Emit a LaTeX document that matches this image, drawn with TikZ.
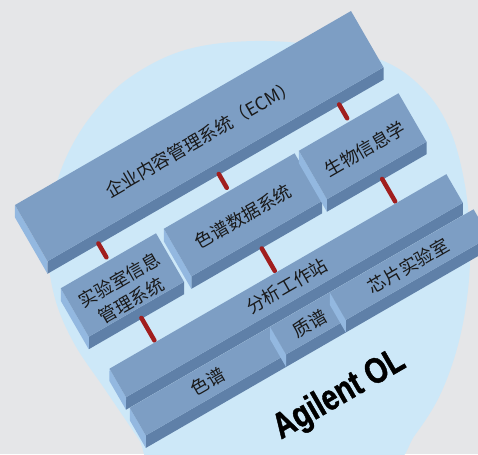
\documentclass[tikz,border=0pt]{standalone}
\usepackage{xcolor}
\usepackage{fontspec}
\setmainfont{Noto Sans CJK SC}
\newfontfamily\agfont[FakeStretch=0.8, BoldFeatures={FakeBold=1.2}]{Liberation Sans}
\usepackage{tikz}

\definecolor{bggray}{HTML}{E5E6E8}
\definecolor{disc}{HTML}{CDE8F8}
\definecolor{slabtopc}{HTML}{7D9EC4}
\definecolor{slabfrontc}{HTML}{5F80A8}
\definecolor{slabsidec}{HTML}{93B8E0}
\definecolor{rodc}{HTML}{A11E1E}

\tikzset{
  slabtop/.style={fill=slabtopc},
  slabfront/.style={fill=slabfrontc},
  slabside/.style={fill=slabsidec},
  lbl/.style={rotate=30, font=\fontsize{18}{24}\selectfont, text=black!90, align=center, inner sep=0pt},
  rod/.style={draw=rodc, line width=4.5pt, line cap=round},
}

% one raised block: u left, v top, u right, v bottom
\newcommand{\slab}[4]{%
  \fill[slabfront] (#1,#4) -- (#3,#4) -- ++(-6.25,10.8) -- ++(#1-#3,0) -- cycle;
  \fill[slabside] (#1,#2) -- (#1,#4) -- ++(-6.25,10.8) -- ++(0,#2-#4) -- cycle;
  \fill[slabtop] (#1,#2) -- (#3,#2) -- (#3,#4) -- (#1,#4) -- cycle;
}

\begin{document}
\begin{tikzpicture}[x=1pt,y=-1pt]
\useasboundingbox (0,0) rectangle (478,454);
\clip (0,0) rectangle (478,454);
\fill[bggray] (0,0) rectangle (478,454);
\fill[disc] plot[smooth cycle, tension=0.6] coordinates {(255,41) (330,47) (388,63) (426,92) (450,130) (464,180) (470,235) (468,290) (458,345) (440,395) (415,435) (385,470) (270,500) (160,470) (138,438) (104,388) (75,345) (56,302) (48,255) (51,207) (65,160) (91,116) (129,78) (185,50)};

\begin{scope}[shift={(15,205)}, x={(0.866pt,0.5pt)}, y={(0.5pt,-0.866pt)}]
% top row
\slab{0}{0}{388}{65}
\foreach \u [count=\i] in {53,192,331} {
  \coordinate (ecm-\i) at (\u,75);
  \coordinate (mid-\i) at (\u,91);
  \coordinate (low-\i) at (\u,161);
  \coordinate (base-\i) at (\u,187);
}
\foreach \i in {1,2,3}
  \draw[rod] (ecm-\i) -- (mid-\i);

% second row
\slab{-2}{95}{108}{151}
\slab{117}{95}{268}{150}
\slab{273}{95}{388}{151}
\foreach \i in {1,2,3}
  \draw[rod] (low-\i) -- (base-\i);

% third and fourth row
\slab{0}{189}{389}{222}
\slab{-2}{233}{160}{265}
\slab{160}{233}{229}{265}
\slab{229}{233}{395}{265}

\node[lbl] (ecm) at (194,35) {企业内容管理系统（ECM）};
\node[lbl] (lims) at (53,129) {实验室信息\\管理系统};
\node[lbl] (cds) at (192,124) {色谱数据系统};
\node[lbl] (bio) at (331,127) {生物信息学};
\node[lbl] (aws) at (195,206) {分析工作站};
\node[lbl] (lc) at (79,249) {色谱};
\node[lbl] (ms) at (196,250) {质谱};
\node[lbl] (chip) at (310,250) {芯片实验室};
\node[rotate=30, inner sep=0pt, font=\agfont\bfseries\fontsize{36}{36}\selectfont] (brand) at (186,327) {Agilent OL};
\end{scope}
\end{tikzpicture}
\end{document}
